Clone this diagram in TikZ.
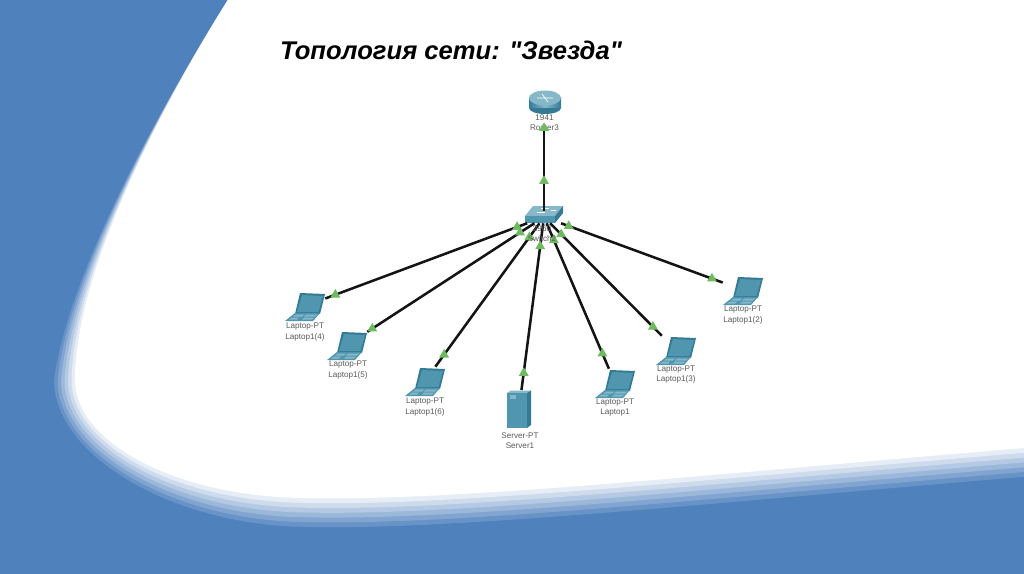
\documentclass[tikz,border=0pt]{standalone}
\usepackage{fontspec}
\setmainfont{Liberation Sans}
\newfontfamily\titlefont{Liberation Sans}
\usetikzlibrary{shapes.geometric}
\definecolor{bluebg}{HTML}{4F81BD}
\definecolor{devtop}{HTML}{86B8CA}
\definecolor{devmid}{HTML}{5196AF}
\definecolor{devdark}{HTML}{357A95}
\definecolor{labelc}{HTML}{5A5A5A}
\definecolor{arrowc}{HTML}{6DBB5E}
\tikzset{
  laptop/.pic={
    \fill[devdark] (-5,-13) -- (20,-12) -- (15,8) -- (-10,8) -- cycle;
    \fill[devmid] (-3,-11) -- (18,-10) -- (13.5,6) -- (-8,6) -- cycle;
    \fill[devmid] (-10,7) -- (15,7) -- (8,15) -- (-20,15) -- cycle;
    \fill[devtop] (-9,8.5) -- (-1,8.5) -- (-3,10.5) -- (-12,10.5) -- cycle;
    \fill[devtop] (1,8.5) -- (12,8.5) -- (10,10.5) -- (-1,10.5) -- cycle;
    \fill[devtop] (-13,11.5) -- (-6,11.5) -- (-8,13.5) -- (-16,13.5) -- cycle;
    \fill[devtop] (-1,11.5) -- (9,11.5) -- (7,13.5) -- (-3,13.5) -- cycle;
  },
  srvbox/.pic={
    \fill[devtop] (-12,-16) -- (-8,-18.5) -- (12,-18.5) -- (8,-16) -- cycle;
    \fill[devmid] (-12,-16) rectangle (8,19);
    \fill[devdark] (8,-16) -- (12,-18.5) -- (12,16) -- (8,19) -- cycle;
    \fill[devtop] (-9,-14) rectangle (-3,-10);
  },
  swbox/.pic={
    \fill[devtop] (-19,2) -- (-11,-8) -- (19,-8) -- (11,2) -- cycle;
    \fill[devmid] (-19,2) rectangle (11,9);
    \fill[devdark] (11,2) -- (19,-8) -- (19,-1) -- (11,9) -- cycle;
    \draw[white, line width=.4pt] (-3,-6) -- (5,-6) (-7,-2) -- (1,-2) (7,-4) -- (12,-4);
  },
  rtbox/.pic={
    \fill[devdark] (0,6) circle[x radius=16, y radius=6];
    \fill[left color=devdark, right color=devdark, middle color=devtop] (-16,-4) rectangle (16,6);
    \fill[devtop] (0,-4) circle[x radius=16, y radius=7.5];
    \draw[white, line width=.5pt] (-8,-4) -- (8,-4) (-3,-8) -- (3,0);
  }
}
\begin{document}
\begin{tikzpicture}[x=.75pt, y=-.75pt,
    hub/.style={minimum width=30pt, minimum height=9pt, inner sep=0pt},
    lap/.style={minimum width=30pt, minimum height=21pt, inner sep=0pt},
    link/.style={line width=1.9pt, black!92},
    linkup/.style={regular polygon, regular polygon sides=3, fill=arrowc, minimum size=8.6pt, inner sep=0pt},
    devlabel/.style={font=\fontsize{6.1}{7.9}\selectfont, text=labelc, align=center, inner sep=0pt}]
  \useasboundingbox (0,0) rectangle (1024,574);
  % slide background
  \fill[bluebg] (0,0) rectangle (1024,574);
  \foreach \n in {6,5,...,0} {
    \pgfmathsetmacro{\a}{3.5*\n}
    \pgfmathsetmacro{\b}{4.8*\n}
    \pgfmathsetmacro{\p}{\n*100/7}
    \fill[bluebg!\p!white] (228,0) -- (1024,0) -- (1024,448+\b)
      .. controls (700,475+\b) and (450,502+\b) .. (300,498+\b)
      .. controls (170,495+\b) and (75-\a,440+.5*\b) .. (75-\a,380)
      .. controls (75-.3*\a,270) and (165,100) .. (228,0) -- cycle;
  }
  \node[font=\titlefont\fontsize{19.2}{22}\selectfont\bfseries\itshape] (title) at (451,50) {Топология сети: "Звезда"};
  % devices
  \node[hub, minimum width=24pt, minimum height=19pt] (rt) at (544,102) {};
  \node[hub] (sw) at (544,217) {};
  \node[lap] (lapfour) at (305,306) {};
  \node[lap] (lapfive) at (347,345) {};
  \node[lap] (lapsix) at (425,381) {};
  \node[hub, minimum width=18pt, minimum height=28pt] (srv) at (519,409) {};
  \node[lap] (lapone) at (615,383) {};
  \node[lap] (lapthree) at (676,350) {};
  \node[lap] (laptwo) at (743,290) {};
  \pic at (545,102) {rtbox};
  \pic at (544,214) {swbox};
  \pic at (lapfour) {laptop};
  \pic at (lapfive) {laptop};
  \pic at (lapsix) {laptop};
  \pic at (srv) {srvbox};
  \pic at (lapone) {laptop};
  \pic at (lapthree) {laptop};
  \pic at (laptwo) {laptop};
  % links
  \draw[link] (sw) -- node[linkup, pos=.31] (uprt) {} (rt);
  \draw[link] (sw) -- node[linkup, pos=.05] (nfour) {} node[linkup, pos=.95] (ffour) {} (lapfour);
  \draw[link] (sw) -- node[linkup, pos=.086] (nfive) {} node[linkup, pos=.97] (ffive) {} (lapfive);
  \draw[link] (sw) -- node[linkup, pos=.097] (nsix) {} node[linkup, pos=.916] (fsix) {} (lapsix);
  \draw[link] (sw) -- node[linkup, pos=.138] (nsrv) {} node[linkup, pos=.898] (fsrv) {} (srv);
  \draw[link] (sw) -- node[linkup, pos=.117] (none) {} node[linkup, pos=.896] (fone) {} (lapone);
  \draw[link] (sw) -- node[linkup, pos=.098] (nthree) {} node[linkup, pos=.92] (fthree) {} (lapthree);
  \draw[link] (sw) -- node[linkup, pos=.047] (ntwo) {} node[linkup, pos=.933] (ftwo) {} (laptwo);
  % labels
  \node[devlabel, fill=white] (rtname) at (544.5,122.5) {1941\\Router3};
  \node[linkup] (dnrt) at (544,128) {};
  \node[devlabel] (swname) at (542,233.5) {2960\\Switch2};
  \node[devlabel] (fourname) at (305,332) {Laptop-PT\\Laptop1(4)};
  \node[devlabel] (fivename) at (348,370) {Laptop-PT\\Laptop1(5)};
  \node[devlabel] (sixname) at (425,407) {Laptop-PT\\Laptop1(6)};
  \node[devlabel] (srvname) at (520,440.5) {Server-PT\\Server1};
  \node[devlabel] (onename) at (615,407.5) {Laptop-PT\\Laptop1};
  \node[devlabel] (threename) at (676,374.5) {Laptop-PT\\Laptop1(3)};
  \node[devlabel] (twoname) at (743,315) {Laptop-PT\\Laptop1(2)};
\end{tikzpicture}
\end{document}
